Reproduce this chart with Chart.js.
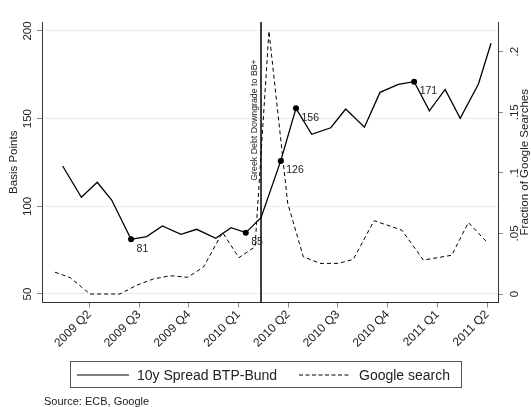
<!DOCTYPE html>
<html>
<head>
<meta charset="utf-8">
<script src="https://cdn.jsdelivr.net/npm/chart.js@4/dist/chart.umd.min.js"></script>
<style>
  html, body { margin: 0; padding: 0; background: #fff; }
  #wrap { position: relative; width: 531px; height: 407px; font-family: "Liberation Sans", Arial, sans-serif; color: #222; overflow: hidden; }
  #c { position: absolute; left: 0; top: 0; }
  #legend { position: absolute; left: 70px; top: 360.5px; width: 392px; height: 27px; box-sizing: border-box; border: 1px solid #555; }
  #legend .lbl { position: absolute; top: 5px; font-size: 14px; line-height: 16px; white-space: nowrap; }
  #legend svg { position: absolute; top: 11px; }
  #source { position: absolute; left: 44px; top: 394.5px; font-size: 11px; line-height: 13px; white-space: nowrap; }
</style>
</head>
<body>
<div id="wrap">
  <canvas id="c" width="531" height="407"></canvas>
  <div id="legend">
    <svg style="left:6px" width="52" height="4"><line x1="0" y1="2" x2="52" y2="2" stroke="#000" stroke-width="1.2"/></svg>
    <span class="lbl" style="left:66px">10y Spread BTP-Bund</span>
    <svg style="left:228px" width="52" height="4"><line x1="0" y1="2" x2="52" y2="2" stroke="#000" stroke-width="1" stroke-dasharray="4,2.5"/></svg>
    <span class="lbl" style="left:288px">Google search</span>
  </div>
  <div id="source">Source: ECB, Google</div>
</div>
<script>
// x values are months since 1 Jan 2009 (2009 Q2 = 3)
const spreadMonths = [1.39, 2.52, 3.48, 4.35, 5.52, 6.46, 7.41, 8.53, 9.48, 10.63, 11.55, 12.44, 13.36,
                      14.55, 15.47, 16.42, 17.57, 18.47, 19.60, 20.54, 21.65, 22.60, 23.52, 24.47, 25.38, 26.48, 27.24];
const spreadBp = [123.0, 105.2, 113.7, 103.6, 81.2, 82.7, 88.8, 84.0, 86.9, 81.8, 87.8, 85.0, 93.5,
                  125.9, 155.9, 141.1, 144.8, 155.5, 145.1, 165.0, 169.6, 171.1, 154.5, 166.7, 150.2, 169.8, 193.0];
const labelledPoints = [4, 11, 13, 14, 21];

const searchMonths = [0.93, 1.84, 3.04, 4.85, 5.88, 6.86, 7.87, 8.94, 9.89, 11.04, 12.03, 13.0, 13.84,
                      14.97, 15.91, 16.92, 18.03, 18.93, 20.18, 21.85, 23.16, 24.87, 25.87, 26.98];
const searchShare = [0.018, 0.0136, 0, 0, 0.0074, 0.0124, 0.0151, 0.0138, 0.0223, 0.0508, 0.030, 0.039, 0.217,
                     0.075, 0.0308, 0.0253, 0.0253, 0.0286, 0.0605, 0.0528, 0.028, 0.032, 0.059, 0.043];

const quarterTicks = [3, 6, 9, 12, 15, 18, 21, 24, 27];
const quarterLabels = ['2009 Q2', '2009 Q3', '2009 Q4', '2010 Q1', '2010 Q2', '2010 Q3', '2010 Q4', '2011 Q1', '2011 Q2'];
const leftTicks = [50, 100, 150, 200];
const rightTicks = [0, 0.05, 0.1, 0.15, 0.2];
const rightTickLabels = ['0', '.05', '.1', '.15', '.2'];
const downgradeMonth = 13.36;
const downgradeLabel = 'Greek Debt Downgrade to BB+';
const rightTitle = 'Fraction of Google Searches';

const FAMILY = '"Liberation Sans", Arial, sans-serif';
const TXT = '#222';

const downgradePlugin = {
  id: 'downgrade',
  beforeDatasetsDraw(chart) {
    const { ctx, chartArea: a, scales: { x } } = chart;
    const px = x.getPixelForValue(downgradeMonth);
    ctx.save();
    ctx.strokeStyle = '#000';
    ctx.lineWidth = 1.5;
    ctx.beginPath();
    ctx.moveTo(px, a.top);
    ctx.lineTo(px, a.bottom);
    ctx.stroke();
    ctx.translate(px - 6, a.top + 98);
    ctx.rotate(-Math.PI / 2);
    ctx.font = '8.8px ' + FAMILY;
    ctx.fillStyle = TXT;
    ctx.textAlign = 'center';
    ctx.textBaseline = 'middle';
    ctx.fillText(downgradeLabel, 0, 0);
    ctx.restore();
  }
};

const rightTitlePlugin = {
  id: 'rightTitle',
  afterDraw(chart) {
    const { ctx, chartArea: a } = chart;
    ctx.save();
    ctx.translate(chart.width - 6, (a.top + a.bottom) / 2);
    ctx.rotate(-Math.PI / 2);
    ctx.font = '11.5px ' + FAMILY;
    ctx.fillStyle = TXT;
    ctx.textAlign = 'center';
    ctx.textBaseline = 'middle';
    ctx.fillText(rightTitle, 0, 0);
    ctx.restore();
  }
};

const pointLabelPlugin = {
  id: 'pointLabels',
  afterDatasetsDraw(chart) {
    const { ctx } = chart;
    const meta = chart.getDatasetMeta(0);
    ctx.save();
    ctx.font = '10.5px ' + FAMILY;
    ctx.fillStyle = TXT;
    ctx.textAlign = 'left';
    ctx.textBaseline = 'middle';
    labelledPoints.forEach(i => {
      const el = meta.data[i];
      ctx.fillText(String(Math.round(spreadBp[i])), el.x + 5.5, el.y + 9.5);
    });
    ctx.restore();
  }
};

new Chart(document.getElementById('c'), {
  type: 'line',
  data: {
    datasets: [
      {
        label: '10y Spread BTP-Bund',
        data: spreadMonths.map((m, i) => ({ x: m, y: spreadBp[i] })),
        yAxisID: 'yL',
        borderColor: '#000',
        borderWidth: 1.3,
        pointRadius: spreadMonths.map((_, i) => labelledPoints.includes(i) ? 3 : 0),
        pointBackgroundColor: '#000',
        pointBorderWidth: 0,
        tension: 0,
        fill: false
      },
      {
        label: 'Google search',
        data: searchMonths.map((m, i) => ({ x: m, y: searchShare[i] })),
        yAxisID: 'yR',
        borderColor: '#000',
        borderWidth: 1,
        borderDash: [4, 3],
        pointRadius: 0,
        tension: 0,
        fill: false
      }
    ]
  },
  options: {
    responsive: false,
    animation: false,
    devicePixelRatio: 1,
    layout: { padding: { top: 22, left: 0, right: 0, bottom: 0 } },
    plugins: { legend: { display: false }, tooltip: { enabled: false } },
    scales: {
      x: {
        type: 'linear',
        position: 'bottom',
        min: 0.145,
        max: 27.66,
        afterBuildTicks: s => { s.ticks = quarterTicks.map(v => ({ value: v })); },
        afterFit: s => { s.height = 104.5; },
        grid: { drawOnChartArea: false, tickLength: 5, tickColor: '#888' },
        border: { display: true, color: '#333', width: 1 },
        ticks: {
          autoSkip: false, minRotation: 45, maxRotation: 45, padding: 0,
          color: TXT, font: { family: FAMILY, size: 12 },
          callback: (v, i) => quarterLabels[i]
        }
      },
      yL: {
        type: 'linear',
        position: 'left',
        min: 45.15,
        max: 205.13,
        afterBuildTicks: s => { s.ticks = leftTicks.map(v => ({ value: v })); },
        afterFit: s => { s.width = 42; },
        grid: { color: '#e4ecee', tickColor: '#888', tickLength: 5, drawOnChartArea: true },
        border: { display: true, color: '#333', width: 1 },
        ticks: {
          minRotation: 90, maxRotation: 90, crossAlign: 'center', padding: 0,
          color: TXT, font: { family: FAMILY, size: 11.5 },
          callback: v => String(v)
        },
        title: { display: true, text: 'Basis Points', color: TXT, font: { family: FAMILY, size: 11.5 }, padding: { top: 7, bottom: 0 } }
      },
      yR: {
        type: 'linear',
        position: 'right',
        min: -0.0070,
        max: 0.2245,
        afterBuildTicks: s => { s.ticks = rightTicks.map(v => ({ value: v })); },
        afterFit: s => { s.width = 33; },
        grid: { drawOnChartArea: false, tickColor: '#888', tickLength: 5 },
        border: { display: true, color: '#333', width: 1 },
        ticks: {
          minRotation: 90, maxRotation: 90, crossAlign: 'center', padding: 4,
          color: TXT, font: { family: FAMILY, size: 11.5 },
          callback: (v, i) => rightTickLabels[i]
        }
      }
    }
  },
  plugins: [downgradePlugin, pointLabelPlugin, rightTitlePlugin]
});
</script>
</body>
</html>
